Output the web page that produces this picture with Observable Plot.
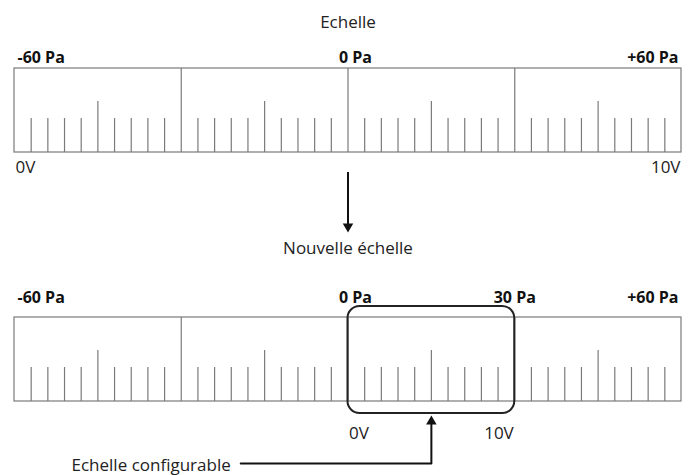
<!DOCTYPE html>
<html>
<head>
<meta charset="utf-8">
<script src="https://cdn.jsdelivr.net/npm/d3@7"></script>
<script src="https://cdn.jsdelivr.net/npm/@observablehq/plot@0.6"></script>
<style>
  html, body { margin: 0; padding: 0; background: #fff; }
  #chart svg { display: block; }
</style>
</head>
<body>
<div id="chart"></div>
<script>
// ---- data ----
const paMin = -60, paMax = 60;
const minorStep = 3;              // Pa per graduation
const midEvery = 15;              // half-division tick
const majorEvery = 30;            // division line
const pressureLabelValues = [-60, 0, 60];
const pressureLabelTexts = ["-60 Pa", "0 Pa", "+60 Pa"];
const configLabelValues = [30];
const configLabelTexts = ["30 Pa"];
const topVoltValues = [-60, 60];
const bottomVoltValues = [0, 30];
const voltTexts = ["0V", "10V"];
const titles = ["Echelle", "Nouvelle échelle"];
const calloutText = "Echelle configurable";
const configRange = [0, 30];
const calloutPa = 15;
const calloutStartPa = -19.3;

// ---- layout (pixels) ----
const W = 693, H = 475;
const rulerTops = [68, 317];
const rulerH = 84;
const tickLen = {minor: 34, mid: 51, major: 84};
const font = "'Open Sans', Lato, sans-serif";
const grey = "#7a7a7a";
const fsR = 17, fsB = 16;

const grads = d3.range(paMin + minorStep, paMax, minorStep).map(v => ({
  v,
  kind: v % majorEvery === 0 ? "major" : (v % midEvery === 0 ? "mid" : "minor")
}));
const ticks = rulerTops.flatMap(top => grads.map(g => ({
  x: g.v, y1: top + rulerH, y2: top + rulerH - tickLen[g.kind]
})));
const boxes = rulerTops.map(top => ({x1: paMin, x2: paMax, y1: top, y2: top + rulerH}));

const paBaselines = [62, 302];
const paLabels = paBaselines.flatMap(b => pressureLabelValues.map((v, j) => ({
  x: v, y: b - 0.32 * fsB, text: pressureLabelTexts[j]
})));
const voltTop = topVoltValues.map((v, j) => ({x: v, y: 172 - 0.32 * fsR, text: voltTexts[j]}));
const voltBottom = bottomVoltValues.map((v, j) => ({x: v, y: 438 - 0.32 * fsR, text: voltTexts[j]}));

const reg = {fontSize: fsR, fill: "#222"};
const bold = {fontSize: fsB, fontWeight: "bold", fill: "#111"};

const chart = Plot.plot({
  width: W, height: H,
  marginLeft: 14, marginRight: 12, marginTop: 0, marginBottom: 0,
  x: {domain: [paMin, paMax], axis: null},
  y: {domain: [0, H], range: [0, H], axis: null},
  style: {fontFamily: font, background: "#fff"},
  marks: [
    Plot.rect(boxes, {x1: "x1", x2: "x2", y1: "y1", y2: "y2", fill: "none", stroke: grey, strokeWidth: 1.2}),
    Plot.ruleX(ticks, {x: "x", y1: "y1", y2: "y2", stroke: grey, strokeWidth: 1.2}),
    // titles
    Plot.text([titles[0]], {x: () => 0, y: () => 27 - 0.32 * fsR, text: d => d, ...reg}),
    Plot.text([titles[1]], {x: () => 0, y: () => 253 - 0.32 * fsR, text: d => d, ...reg}),
    // pressure labels
    Plot.text(paLabels.filter(d => d.x === paMin), {x: "x", y: "y", text: "text", textAnchor: "start", dx: 3, ...bold}),
    Plot.text(paLabels.filter(d => d.x === 0), {x: "x", y: "y", text: "text", textAnchor: "start", dx: -9, ...bold}),
    Plot.text(paLabels.filter(d => d.x === paMax), {x: "x", y: "y", text: "text", textAnchor: "end", dx: -3, ...bold}),
    Plot.text(configLabelValues.map((v, j) => ({x: v, text: configLabelTexts[j]})), {x: "x", y: () => 302 - 0.32 * fsB, text: "text", ...bold}),
    // voltage labels
    Plot.text([voltTop[0]], {x: "x", y: "y", text: "text", textAnchor: "start", dx: 1, ...reg}),
    Plot.text([voltTop[1]], {x: "x", y: "y", text: "text", textAnchor: "end", dx: -1, ...reg}),
    Plot.text([voltBottom[0]], {x: "x", y: "y", text: "text", textAnchor: "start", dx: 1, ...reg}),
    Plot.text([voltBottom[1]], {x: "x", y: "y", text: "text", textAnchor: "end", dx: -1, ...reg}),
    // arrow between rulers
    Plot.ruleX([0], {x: d => d, y1: () => 172, y2: () => 227, stroke: "#111", strokeWidth: 2}),
    Plot.dot([0], {x: d => d, y: () => 226, symbol: "triangle", r: 3.9, rotate: 180, fill: "#111", stroke: "none"}),
    // configurable range box
    Plot.rect([configRange], {x1: d => d[0], x2: d => d[1], y1: () => 306, y2: () => 413, rx: 12, fill: "none", stroke: "#222", strokeWidth: 2}),
    // callout
    Plot.line([[calloutStartPa, 463], [calloutPa, 463], [calloutPa, 421]], {x: d => d[0], y: d => d[1], stroke: "#111", strokeWidth: 2}),
    Plot.dot([calloutPa], {x: d => d, y: () => 421, symbol: "triangle", r: 3.9, fill: "#111", stroke: "none"}),
    Plot.text([calloutText], {x: () => calloutStartPa, y: () => 470 - 0.32 * fsR, text: d => d, textAnchor: "end", dx: -10, ...reg})
  ]
});
document.getElementById("chart").appendChild(chart);
</script>
</body>
</html>
